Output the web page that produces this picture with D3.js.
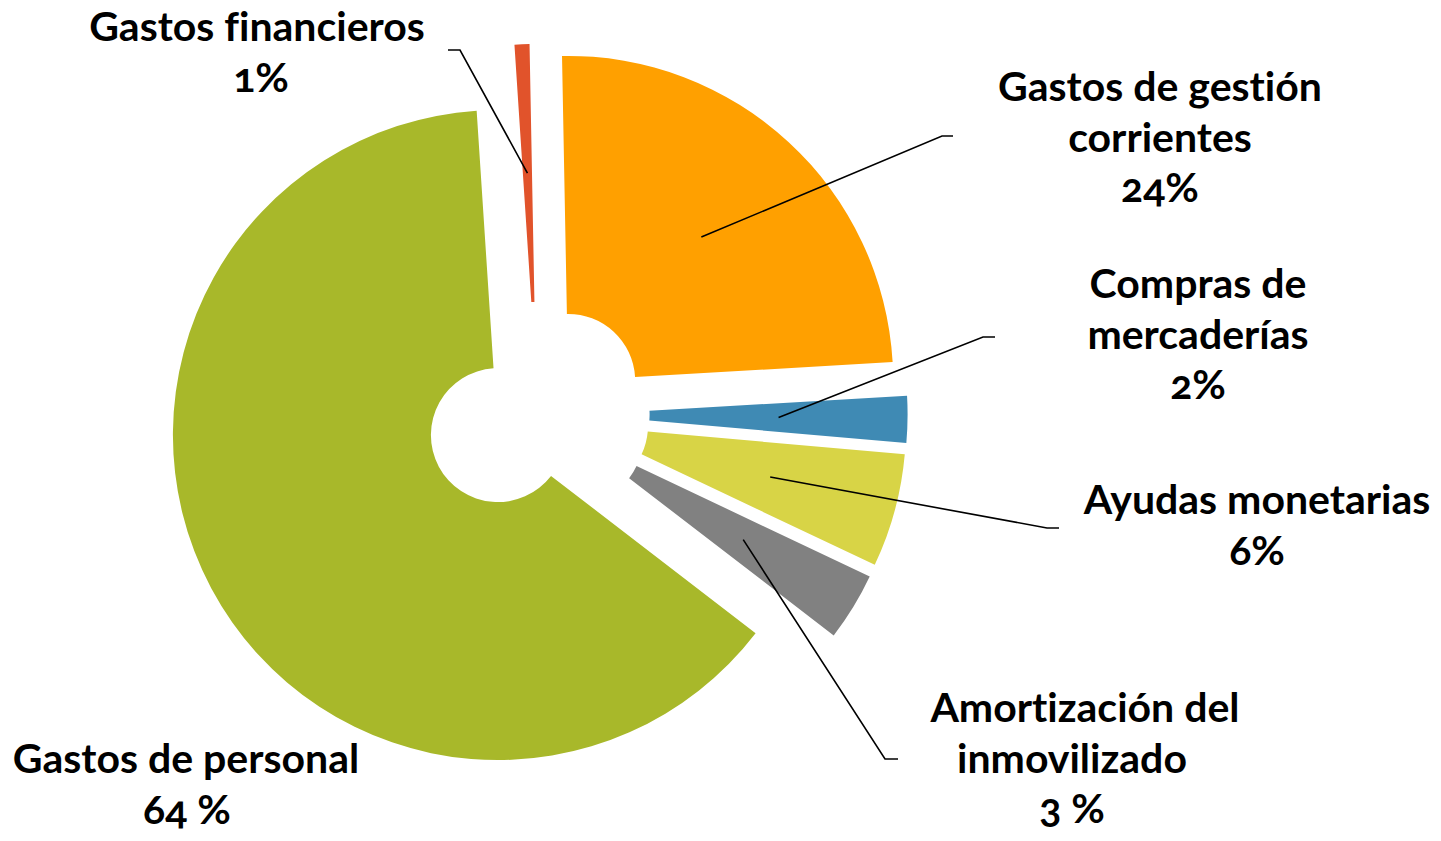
<!DOCTYPE html>
<html>
<head>
<meta charset="utf-8">
<script src="https://cdn.jsdelivr.net/npm/d3@7"></script>
<style>
  html, body { margin: 0; padding: 0; background: #fff; }
  #chart text {
    font-family: Lato, "Open Sans", sans-serif;
    font-weight: 700;
    font-size: 41px;
    fill: #000;
    font-variant-numeric: oldstyle-nums;
    font-variant-ligatures: none;
  }
</style>
</head>
<body>
<div id="chart"></div>
<script>
// slices, clockwise from the top
var categories = ["Gastos financieros", "Gastos de gestión corrientes", "Compras de mercaderías",
  "Ayudas monetarias", "Amortización del inmovilizado", "Gastos de personal"];
var values = [0.74, 24.38, 2.32, 5.64, 3.39, 63.53];
var pctLabels = ["1%", "24%", "2%", "6%", "3 %", "64 %"];
var labelLines = [
  ["Gastos financieros"],
  ["Gastos de gestión", "corrientes"],
  ["Compras de", "mercaderías"],
  ["Ayudas monetarias"],
  ["Amortización del", "inmovilizado"],
  ["Gastos de personal"]
];
var colors = ["#E1532B", "#FFA000", "#3F8AB4", "#D8D446", "#818181", "#A8B82A"];

// where each label block sits, and the leader bend/end points
var labelPos = [
  {x: [257, 261], y: 41, leader: [[460, 50], [448, 50]]},
  {x: [1160, 1160, 1160], y: 101, leader: [[942, 136], [953, 136]]},
  {x: [1198, 1198, 1198], y: 298, leader: [[983, 337], [995, 337]]},
  {x: [1257, 1257], y: 514, leader: [[1047, 528], [1059, 528]]},
  {x: [1085, 1072, 1072], y: 722, leader: [[885, 759], [898, 759]]},
  {x: [186, 187], y: 773, leader: null}
];
var lineGap = 50.5;

var width = 1441, height = 841;
var cx = 537.6, cy = 413.9;
var outerR = 325, innerR = 67, explode = 45;
var startAngle = -3.75 * Math.PI / 180;

var svg = d3.select("#chart")
  .append("svg")
    .attr("width", width)
    .attr("height", height);

var data = categories.map(function(c, i) {
  return {name: c, value: values[i], pct: pctLabels[i], lines: labelLines[i], color: colors[i], pos: labelPos[i]};
});

var pie = d3.pie()
  .sort(null)
  .value(function(d) { return d.value; })
  .startAngle(startAngle)
  .endAngle(startAngle + 2 * Math.PI);

var arc = d3.arc()
  .innerRadius(innerR)
  .outerRadius(outerR);

var arcs = pie(data);

// offset of a slice pulled out along its middle angle
function shift(a) {
  var mid = (a.startAngle + a.endAngle) / 2;
  return [cx + Math.sin(mid) * explode, cy - Math.cos(mid) * explode];
}

var slices = svg.append("g").attr("class", "slices");
slices.selectAll("path")
  .data(arcs)
  .enter().append("path")
    .attr("transform", function(d) { var s = shift(d); return "translate(" + s[0] + "," + s[1] + ")"; })
    .attr("d", arc)
    .attr("fill", function(d) { return d.data.color; });

// leader lines from slice centroid to the label
var line = d3.line();
svg.append("g").attr("class", "leaders")
  .selectAll("path")
  .data(arcs.filter(function(d) { return d.data.pos.leader; }))
  .enter().append("path")
    .attr("d", function(d) {
      var s = shift(d), c = arc.centroid(d);
      var pts = [[s[0] + c[0], s[1] + c[1]]].concat(d.data.pos.leader);
      return line(pts);
    })
    .attr("fill", "none")
    .attr("stroke", "#000")
    .attr("stroke-width", 1.6);

// labels
var labels = svg.append("g").attr("class", "labels");
arcs.forEach(function(d) {
  var rows = d.data.lines.concat([d.data.pct]);
  var t = labels.append("text").attr("text-anchor", "middle");
  rows.forEach(function(r, i) {
    t.append("tspan")
      .attr("x", d.data.pos.x[i])
      .attr("y", d.data.pos.y + i * lineGap)
      .text(r);
  });
});
</script>
</body>
</html>
